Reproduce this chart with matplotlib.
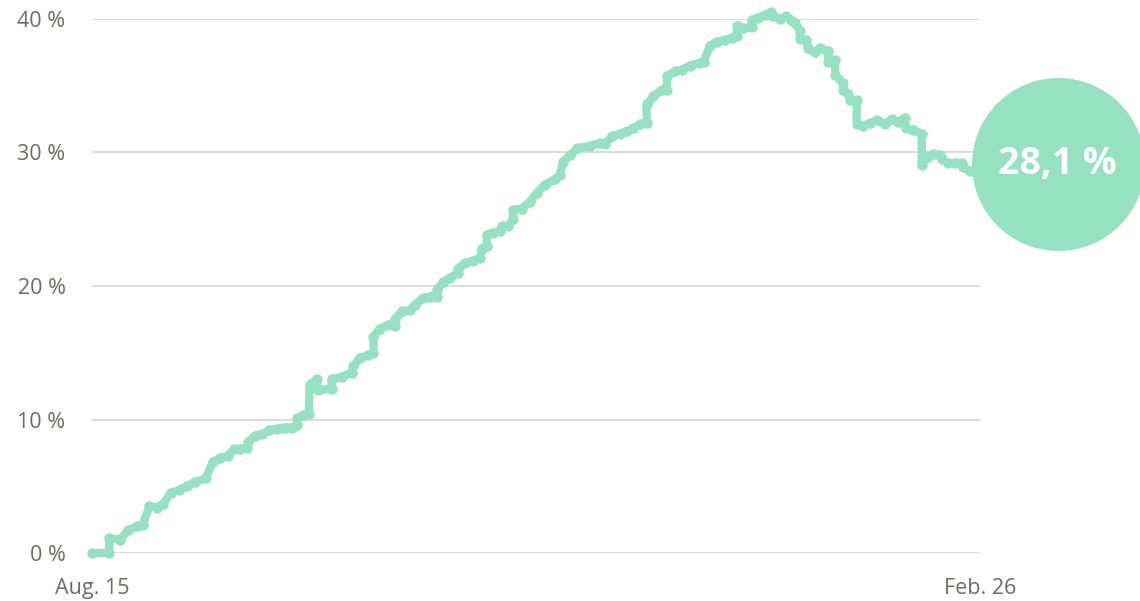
import matplotlib.pyplot as plt
from matplotlib import transforms

# days since Aug. 15, share in %
days = [0, 3.8, 3.8, 6.1, 8.0, 9.8, 11.1, 12.6, 14.2, 15.7, 17.3, 19.0, 20.8, 22.6, 25.0,
        26.5, 28.1, 29.9, 31.2, 32.5, 34.0, 34.3, 35.8, 37.3, 38.9, 40.6, 42.4, 43.9, 45.0,
        45.1, 46.4, 47.6, 47.8, 49.3, 49.7, 52.6, 52.6, 54.8, 57.0, 57.4, 58.8, 60.7, 61.8,
        61.8, 63.2, 65.1, 66.5, 66.5, 68.0, 69.8, 70.9, 72.7, 74.2, 75.7, 75.7, 77.1, 78.6,
        80.4, 80.4, 81.9, 83.7, 85.2, 85.6, 86.7, 86.7, 88.1, 89.6, 90.0, 91.4, 92.5, 92.5,
        94.4, 96.2, 97.7, 99.5, 101.7, 102.8, 103.4, 105.0, 106.5, 109.4, 111.6, 112.6, 114.1,
        115.9, 117.4, 118.9, 120.3, 121.8, 121.8, 123.3, 125.1, 126.2, 126.3, 128.0, 129.5,
        131.3, 133.5, 134.3, 135.7, 137.2, 139.0, 140.5, 141.6, 141.7, 143.0, 144.9, 144.9,
        146.3, 147.8, 149.2, 149.6, 151.1, 152.5, 153.6, 154.4, 155.5, 155.5, 156.9, 157.3,
        158.8, 159.9, 161.7, 161.7, 163.2, 163.2, 165.0, 165.0, 166.1, 166.4, 167.9, 167.9,
        169.4, 170.8, 172.3, 174.1, 175.6, 177.0, 178.5, 178.7, 180.3, 182.2, 182.2, 183.5,
        184.8, 186.2, 186.6, 188.0, 189.5, 191.0, 191.3, 192.8, 194.3, 195]
values = [0, 0, 1.1, 1.0, 1.7, 2.0, 2.1, 3.5, 3.4, 3.7, 4.5, 4.7, 5.0, 5.3, 5.6,
          6.8, 7.1, 7.3, 7.8, 7.8, 7.9, 8.3, 8.8, 8.9, 9.2, 9.3, 9.4, 9.4, 9.6,
          10.1, 10.3, 10.4, 12.6, 13.0, 12.2, 12.3, 13.0, 13.2, 13.5, 14.0, 14.6, 14.8, 15.0,
          16.2, 16.8, 17.1, 17.0, 17.5, 18.1, 18.2, 18.6, 19.1, 19.2, 19.2, 19.7, 20.3, 20.6,
          21.0, 21.3, 21.7, 21.9, 22.1, 22.8, 23.0, 23.8, 24.0, 24.1, 24.5, 24.5, 25.0, 25.7,
          25.8, 26.3, 27.0, 27.6, 28.0, 28.3, 29.3, 29.8, 30.3, 30.5, 30.7, 30.6, 31.2,
          31.4, 31.6, 31.8, 32.1, 32.2, 33.6, 34.2, 34.7, 34.7, 35.7, 36.1, 36.2,
          36.5, 36.7, 36.8, 38.0, 38.3, 38.4, 38.6, 38.7, 39.5, 39.3, 39.4, 39.9,
          40.1, 40.3, 40.5, 40.2, 40.0, 40.2, 39.9, 39.7, 39.1, 38.5, 38.4, 37.8,
          37.5, 37.8, 37.6, 36.8, 36.9, 35.8, 35.2, 34.7, 34.4, 33.9, 33.9, 32.1,
          32.0, 32.2, 32.4, 32.1, 32.5, 32.3, 32.6, 31.8, 31.7, 31.4, 29.1, 29.7,
          29.9, 29.8, 29.5, 29.2, 29.2, 29.2, 28.9, 28.6, 28.4, 28.1]
tick_days = [0, 195]
tick_labels = ['Aug. 15', 'Feb. 26']
y_ticks = [0, 10, 20, 30, 40]
last_label = '28,1 %'

green = '#95e1c1'
grey = '#6e6a68'
plt.rcParams['font.family'] = ['Open Sans', 'DejaVu Sans']

fig = plt.figure(figsize=(11.4, 6.01), dpi=100)
ax = fig.add_axes([92/1140, 48/601, (980-92)/1140, (553-19)/601])

ax.plot(days, values, color=green, lw=6, solid_joinstyle='round', solid_capstyle='round',
        marker='o', ms=6.5, mec=green, mfc=green, clip_on=False, zorder=3)

# bubble with the latest value
off = transforms.offset_copy(ax.transData, fig=fig, x=56, y=10, units='points')
ax.plot([days[-1]], [values[-1]], 'o', ms=124.5, color=green, mec='none',
        transform=off, clip_on=False, zorder=4)
ax.text(days[-1], values[-1], last_label, transform=off, ha='center', va='center',
        color='white', fontsize=27, fontweight='bold', zorder=5, clip_on=False)

ax.set_xlim(0, 195)
ax.set_ylim(0, 40)
ax.set_yticks(y_ticks)
ax.set_yticklabels(['%d %%' % v for v in y_ticks])
ax.set_xticks(tick_days)
ax.set_xticklabels(tick_labels)
ax.tick_params(axis='y', length=0, pad=19, labelsize=15.5, labelcolor=grey)
ax.tick_params(axis='x', length=0, pad=18, labelsize=15.5, labelcolor=grey)
ax.grid(axis='y', color='#dcdcdc', lw=1.4)
ax.set_axisbelow(True)
for s in ax.spines.values():
    s.set_visible(False)

fig.savefig('out.png', dpi=100)
